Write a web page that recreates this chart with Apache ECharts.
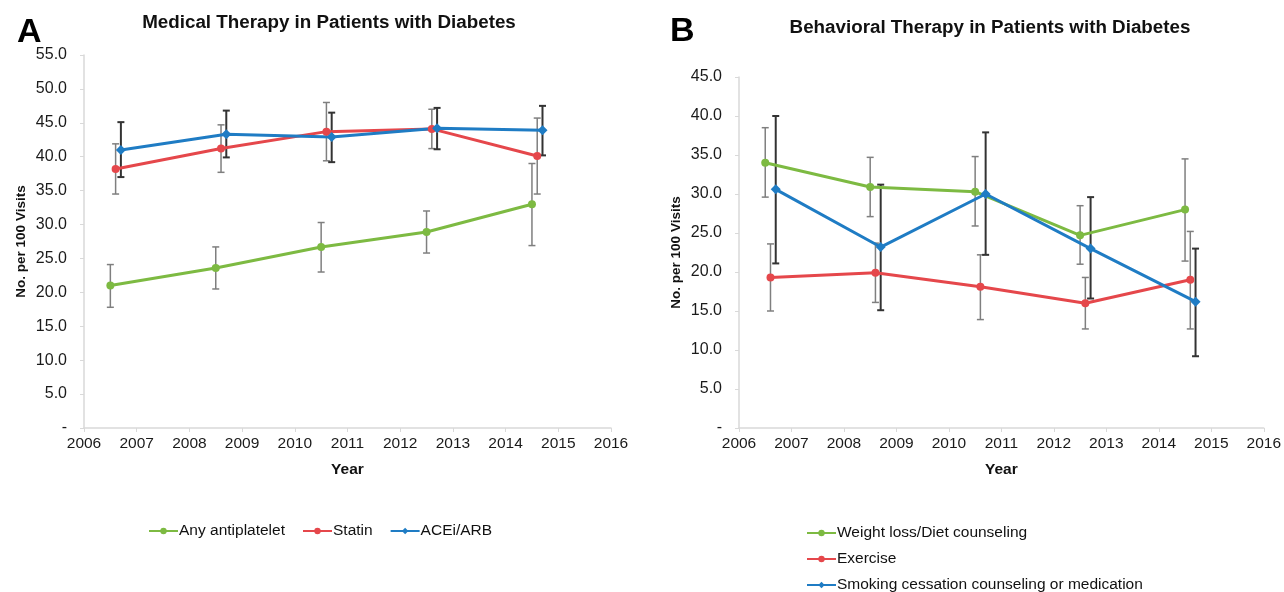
<!DOCTYPE html>
<html>
<head>
<meta charset="utf-8">
<script src="https://cdn.jsdelivr.net/npm/echarts@6/dist/echarts.min.js"></script>
<style>html,body{margin:0;padding:0;background:#fff}#c{width:1284px;height:592px}</style>
</head>
<body>
<div id="c"></div>
<script>
// Panel A: Medical therapy
var antiX = [2006.5, 2008.5, 2010.5, 2012.5, 2014.5];
var antiY = [21.0, 23.6, 26.7, 28.9, 33.0];
var antiLo = [17.8, 20.5, 23.0, 25.8, 26.9];
var antiHi = [24.1, 26.7, 30.3, 32.0, 39.0];

var statinX = [2006.6, 2008.6, 2010.6, 2012.6, 2014.6];
var statinY = [38.2, 41.2, 43.7, 44.1, 40.1];
var statinLo = [34.5, 37.7, 39.4, 41.2, 34.5];
var statinHi = [41.9, 44.7, 48.0, 47.0, 45.7];

var aceX = [2006.7, 2008.7, 2010.7, 2012.7, 2014.7];
var aceY = [41.0, 43.3, 42.9, 44.2, 43.9];
var aceLo = [37.0, 39.9, 39.2, 41.1, 40.2];
var aceHi = [45.1, 46.8, 46.5, 47.2, 47.5];

// Panel B: Behavioral therapy
var weightX = [2006.5, 2008.5, 2010.5, 2012.5, 2014.5];
var weightY = [34.0, 30.9, 30.3, 24.7, 28.0];
var weightLo = [29.6, 27.1, 25.9, 21.0, 21.4];
var weightHi = [38.5, 34.7, 34.8, 28.5, 34.5];

var exerX = [2006.6, 2008.6, 2010.6, 2012.6, 2014.6];
var exerY = [19.3, 19.9, 18.1, 16.0, 19.0];
var exerLo = [15.0, 16.1, 13.9, 12.7, 12.7];
var exerHi = [23.6, 23.7, 22.2, 19.3, 25.2];

var smokeX = [2006.7, 2008.7, 2010.7, 2012.7, 2014.7];
var smokeY = [30.6, 23.2, 30.0, 23.0, 16.2];
var smokeLo = [21.1, 15.1, 22.2, 16.6, 9.2];
var smokeHi = [40.0, 31.2, 37.9, 29.6, 23.0];

var legendA = ['Any antiplatelet', 'Statin', 'ACEi/ARB'];
var legendB = ['Weight loss/Diet counseling', 'Exercise', 'Smoking cessation counseling or medication'];

var GREEN = '#7dba42', RED = '#e5474b', BLUE = '#1f7cc4';
var FONT = 'Liberation Sans, Arial, sans-serif';

function zip(xs, ys) { return xs.map(function (x, i) { return [x, ys[i]]; }); }
function zip3(xs, lo, hi) { return xs.map(function (x, i) { return [x, lo[i], hi[i]]; }); }

function errSeries(name, idx, xs, lo, hi, color, w) {
  return {
    name: name + ' err', type: 'custom', xAxisIndex: idx, yAxisIndex: idx, z: 1,
    silent: true, legendHoverLink: false,
    data: zip3(xs, lo, hi),
    encode: { x: 0, y: [1, 2] },
    renderItem: function (params, api) {
      var x = api.value(0);
      var a = api.coord([x, api.value(1)]);
      var b = api.coord([x, api.value(2)]);
      var h = 3.5;
      var st = { stroke: color, lineWidth: w };
      return { type: 'group', children: [
        { type: 'line', shape: { x1: a[0], y1: a[1], x2: b[0], y2: b[1] }, style: st },
        { type: 'line', shape: { x1: a[0] - h, y1: a[1], x2: a[0] + h, y2: a[1] }, style: st },
        { type: 'line', shape: { x1: b[0] - h, y1: b[1], x2: b[0] + h, y2: b[1] }, style: st }
      ]};
    }
  };
}

function lineSeries(name, idx, xs, ys, color, symbol) {
  return {
    name: name, type: 'line', xAxisIndex: idx, yAxisIndex: idx, z: 3,
    data: zip(xs, ys), symbol: symbol, symbolSize: symbol === 'diamond' ? 10 : 8,
    lineStyle: { color: color, width: 3 }, itemStyle: { color: color },
    animation: false
  };
}

function xAx(idx) {
  return {
    type: 'value', gridIndex: idx, min: 2006, max: 2016, interval: 1,
    name: 'Year', nameLocation: 'middle', nameGap: 34,
    nameTextStyle: { fontFamily: FONT, fontWeight: 'bold', fontSize: 15.5, color: '#111' },
    axisLine: { lineStyle: { color: '#d9d9d9', width: 1.5 } },
    axisTick: { show: true, length: 4, lineStyle: { color: '#d9d9d9' } },
    axisLabel: { fontFamily: FONT, fontSize: 15.5, color: '#1a1a1a', margin: 8,
      formatter: function (v) { return String(v); } },
    splitLine: { show: false }
  };
}
function yAx(idx, max) {
  return {
    type: 'value', gridIndex: idx, min: 0, max: max, interval: 5,
    name: 'No. per 100 Visits', nameLocation: 'middle', nameGap: 56,
    nameTextStyle: { fontFamily: FONT, fontWeight: 'bold', fontSize: 13.5, color: '#111' },
    axisLine: { show: true, lineStyle: { color: '#d9d9d9', width: 1.5 } },
    axisTick: { show: true, length: 4, lineStyle: { color: '#d9d9d9' } },
    axisLabel: { fontFamily: FONT, fontSize: 16, color: '#1a1a1a', margin: 17,
      formatter: function (v) { return v === 0 ? '-' : v.toFixed(1); } },
    splitLine: { show: false }
  };
}

var chart = echarts.init(document.getElementById('c'), null, { renderer: 'canvas' });
chart.setOption({
  animation: false,
  backgroundColor: '#fff',
  title: [
    { text: 'A', left: 12, top: 11, textStyle: { fontFamily: FONT, fontWeight: 'bold', fontSize: 34, color: '#000' } },
    { text: 'Medical Therapy in Patients with Diabetes', left: 324, top: 8, textAlign: 'center',
      textStyle: { fontFamily: FONT, fontWeight: 'bold', fontSize: 18.8, color: '#111' } },
    { text: 'B', left: 665, top: 10, textStyle: { fontFamily: FONT, fontWeight: 'bold', fontSize: 34, color: '#000' } },
    { text: 'Behavioral Therapy in Patients with Diabetes', left: 985, top: 13, textAlign: 'center',
      textStyle: { fontFamily: FONT, fontWeight: 'bold', fontSize: 18.8, color: '#111' } }
  ],
  grid: [
    { left: 84, width: 527, top: 55, height: 373 },
    { left: 739, width: 525, top: 77, height: 351 }
  ],
  xAxis: [xAx(0), xAx(1)],
  yAxis: [yAx(0, 55), yAx(1, 45)],
  legend: [
    { data: legendA, left: 148, top: 523, orient: 'horizontal', padding: 0,
      itemWidth: 29, itemHeight: 8, itemGap: 17,
      textStyle: { fontFamily: FONT, fontSize: 15.5, color: '#111', padding: [0, 0, 0, -4] } },
    { data: legendB, left: 806, top: 525, height: 90, orient: 'vertical', padding: 0,
      itemWidth: 29, itemHeight: 8, itemGap: 10,
      textStyle: { fontFamily: FONT, fontSize: 15.5, color: '#111', padding: [0, 0, 0, -4] } }
  ],
  series: [
    errSeries(legendA[0], 0, antiX, antiLo, antiHi, '#7f7f7f', 1.5),
    errSeries(legendA[1], 0, statinX, statinLo, statinHi, '#7f7f7f', 1.5),
    errSeries(legendA[2], 0, aceX, aceLo, aceHi, '#333333', 2),
    lineSeries(legendA[0], 0, antiX, antiY, GREEN, 'circle'),
    lineSeries(legendA[1], 0, statinX, statinY, RED, 'circle'),
    lineSeries(legendA[2], 0, aceX, aceY, BLUE, 'diamond'),
    errSeries(legendB[0], 1, weightX, weightLo, weightHi, '#7f7f7f', 1.5),
    errSeries(legendB[1], 1, exerX, exerLo, exerHi, '#7f7f7f', 1.5),
    errSeries(legendB[2], 1, smokeX, smokeLo, smokeHi, '#333333', 2),
    lineSeries(legendB[0], 1, weightX, weightY, GREEN, 'circle'),
    lineSeries(legendB[1], 1, exerX, exerY, RED, 'circle'),
    lineSeries(legendB[2], 1, smokeX, smokeY, BLUE, 'diamond')
  ]
});
</script>
</body>
</html>
